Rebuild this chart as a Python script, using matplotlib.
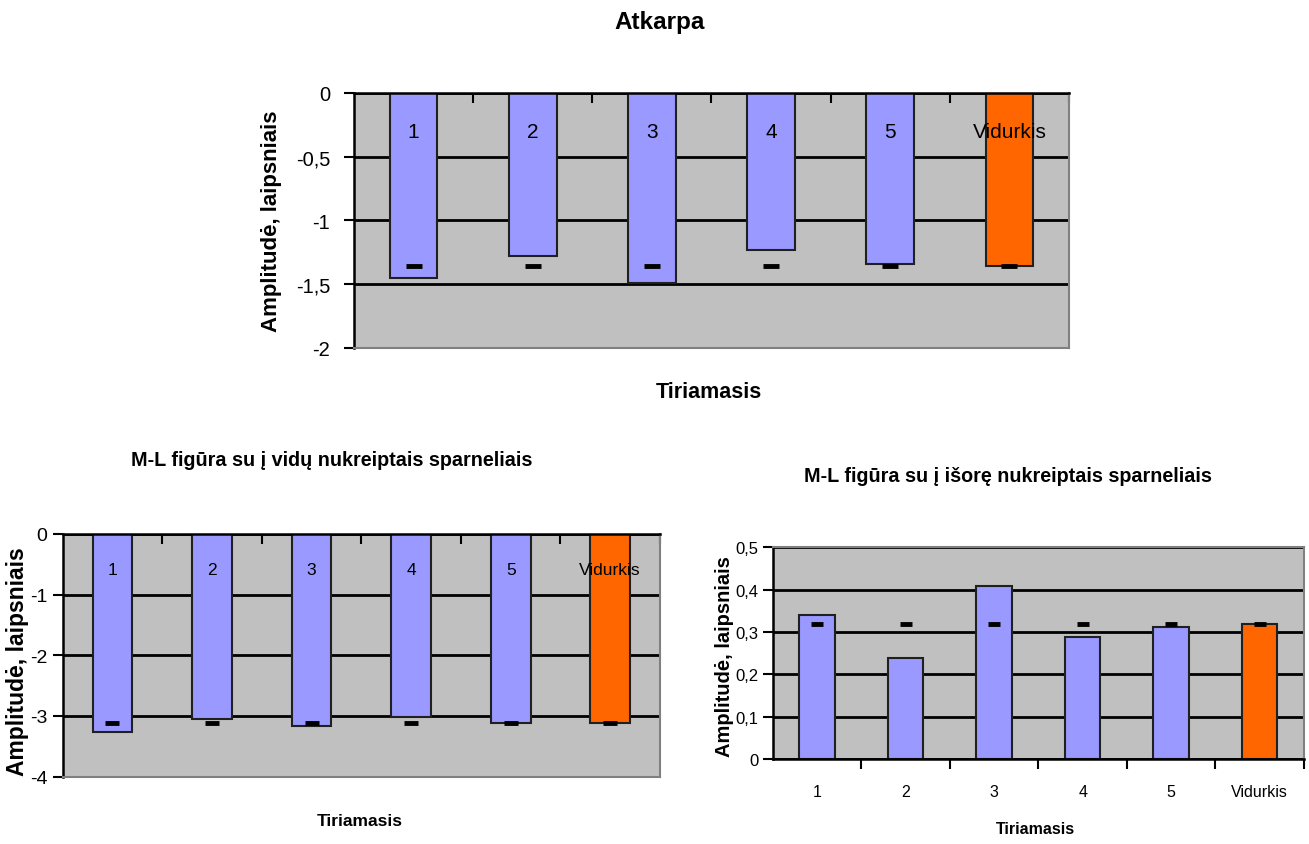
import numpy as np
import matplotlib
matplotlib.use("Agg")
import matplotlib.pyplot as plt
from matplotlib.ticker import FuncFormatter, FixedLocator

# Categories shared by the three charts
categories = ["1", "2", "3", "4", "5", "Vidurkis"]

# Atkarpa
atkarpa_values = [-1.45, -1.28, -1.49, -1.23, -1.34, -1.36]
atkarpa_mean = -1.36

# M-L figure, wings pointing inwards
vidu_values = [-3.27, -3.05, -3.16, -3.01, -3.12, -3.12]
vidu_mean = -3.12

# M-L figure, wings pointing outwards
isore_values = [0.340, 0.238, 0.408, 0.289, 0.313, 0.318]
isore_mean = 0.318

bar_colors = ["#9999FF"] * 5 + ["#FF6600"]
plot_bg = "#C0C0C0"
border_gray = "#808080"

FONT = ["Liberation Sans", "DejaVu Sans"]


def comma(v, pos):
    return f"{v:g}".replace(".", ",")


def draw_bars(ax, values, mean, ylim, yticks, tick_size, dash_size):
    x = np.arange(len(categories))
    ax.set_facecolor(plot_bg)
    ax.bar(x, values, width=0.4, color=bar_colors, edgecolor="#202020",
           linewidth=1.5, zorder=2)
    ax.plot(x, [mean] * len(x), linestyle="none", marker="_",
            markersize=dash_size, markeredgewidth=3.5, color="black", zorder=3)
    ax.set_xlim(-0.5, len(x) - 0.5)
    ax.set_ylim(*ylim)
    ax.set_yticks(yticks)
    ax.yaxis.set_major_formatter(FuncFormatter(comma))
    ax.yaxis.grid(True, color="black", linewidth=2)
    ax.set_axisbelow(True)
    for lab in ax.get_yticklabels():
        lab.set_family(FONT)
        lab.set_fontsize(tick_size)
    ax.tick_params(axis="y", direction="out", length=7, width=1.5)
    ax.xaxis.set_minor_locator(FixedLocator(np.arange(0.5, len(x), 1.0)))
    return x


def style_spines(ax, dark, light):
    for s in dark:
        ax.spines[s].set_color("black")
        ax.spines[s].set_linewidth(1.8)
    for s in light:
        ax.spines[s].set_color(border_gray)
        ax.spines[s].set_linewidth(1.5)


fig = plt.figure(figsize=(13.09, 8.45), dpi=100)
fig.patch.set_facecolor("white")

# --- top chart: Atkarpa ---
ax1 = fig.add_axes([0.2704, 0.5870, 0.5462, 0.3018])
x = draw_bars(ax1, atkarpa_values, atkarpa_mean, (-2, 0),
              [-2, -1.5, -1, -0.5, 0], 14.5, 12)
ax1.tick_params(axis="y", pad=10)
ax1.set_xticks([])
ax1.xaxis.set_ticks_position("top")
ax1.tick_params(axis="x", which="minor", direction="in", length=7, width=1.5,
                top=True, bottom=False, labeltop=False)
style_spines(ax1, ["top", "left"], ["bottom", "right"])
for xi, c in zip(x, categories):
    ax1.text(xi, 0.85, c, transform=ax1.get_xaxis_transform(), ha="center",
             va="center", fontsize=15, family=FONT, zorder=4)

fig.text(660 / 1309, 1 - 22 / 845, "Atkarpa", ha="center", va="center",
         fontsize=17.5, fontweight="bold", family=FONT)
fig.text(709 / 1309, 1 - 392 / 845, "Tiriamasis", ha="center", va="center",
         fontsize=15.5, fontweight="bold", family=FONT)
fig.text(272 / 1309, 1 - 221 / 845, "Amplitudė, laipsniais", ha="center",
         va="center", rotation=90, fontsize=16, fontweight="bold", family=FONT)

# --- bottom left: wings inwards ---
ax2 = fig.add_axes([0.0479, 0.0797, 0.4563, 0.2872])
x = draw_bars(ax2, vidu_values, vidu_mean, (-4, 0), [-4, -3, -2, -1, 0],
              14, 10)
ax2.tick_params(axis="y", pad=4)
ax2.set_xticks([])
ax2.xaxis.set_ticks_position("top")
ax2.tick_params(axis="x", which="minor", direction="in", length=7, width=1.5,
                top=True, bottom=False, labeltop=False)
style_spines(ax2, ["top", "left"], ["bottom", "right"])
for xi, c in zip(x, categories):
    ax2.text(xi, 0.855, c, transform=ax2.get_xaxis_transform(), ha="center",
             va="center", fontsize=12.5, family=FONT, zorder=4)

fig.text(332 / 1309, 1 - 461 / 845,
         "M-L figūra su į vidų nukreiptais sparneliais", ha="center",
         va="center", fontsize=14.2, fontweight="bold", family=FONT)
fig.text(360 / 1309, 1 - 822 / 845, "Tiriamasis", ha="center", va="center",
         fontsize=12.5, fontweight="bold", family=FONT)
fig.text(18 / 1309, 1 - 662 / 845, "Amplitudė, laipsniais", ha="center",
         va="center", rotation=90, fontsize=16.5, fontweight="bold", family=FONT)

# --- bottom right: wings outwards ---
ax3 = fig.add_axes([0.5903, 0.1006, 0.4059, 0.2503])
x = draw_bars(ax3, isore_values, isore_mean, (0, 0.5),
              [0, 0.1, 0.2, 0.3, 0.4, 0.5], 12, 9)
ax3.tick_params(axis="y", pad=3)
ax3.set_xticks(x)
ax3.set_xticklabels(categories, family=FONT, fontsize=11.5)
ax3.tick_params(axis="x", which="major", length=0, pad=18)
ax3.tick_params(axis="x", which="minor", direction="out", length=7, width=1.5)
style_spines(ax3, ["bottom", "left"], ["top", "right"])

fig.text(1008 / 1309, 1 - 477 / 845,
         "M-L figūra su į išorę nukreiptais sparneliais", ha="center",
         va="center", fontsize=14.2, fontweight="bold", family=FONT)
fig.text(1035 / 1309, 1 - 830 / 845, "Tiriamasis", ha="center", va="center",
         fontsize=11.5, fontweight="bold", family=FONT)
fig.text(725 / 1309, 1 - 657 / 845, "Amplitudė, laipsniais", ha="center",
         va="center", rotation=90, fontsize=14.5, fontweight="bold", family=FONT)

fig.savefig("out.png", dpi=100)
